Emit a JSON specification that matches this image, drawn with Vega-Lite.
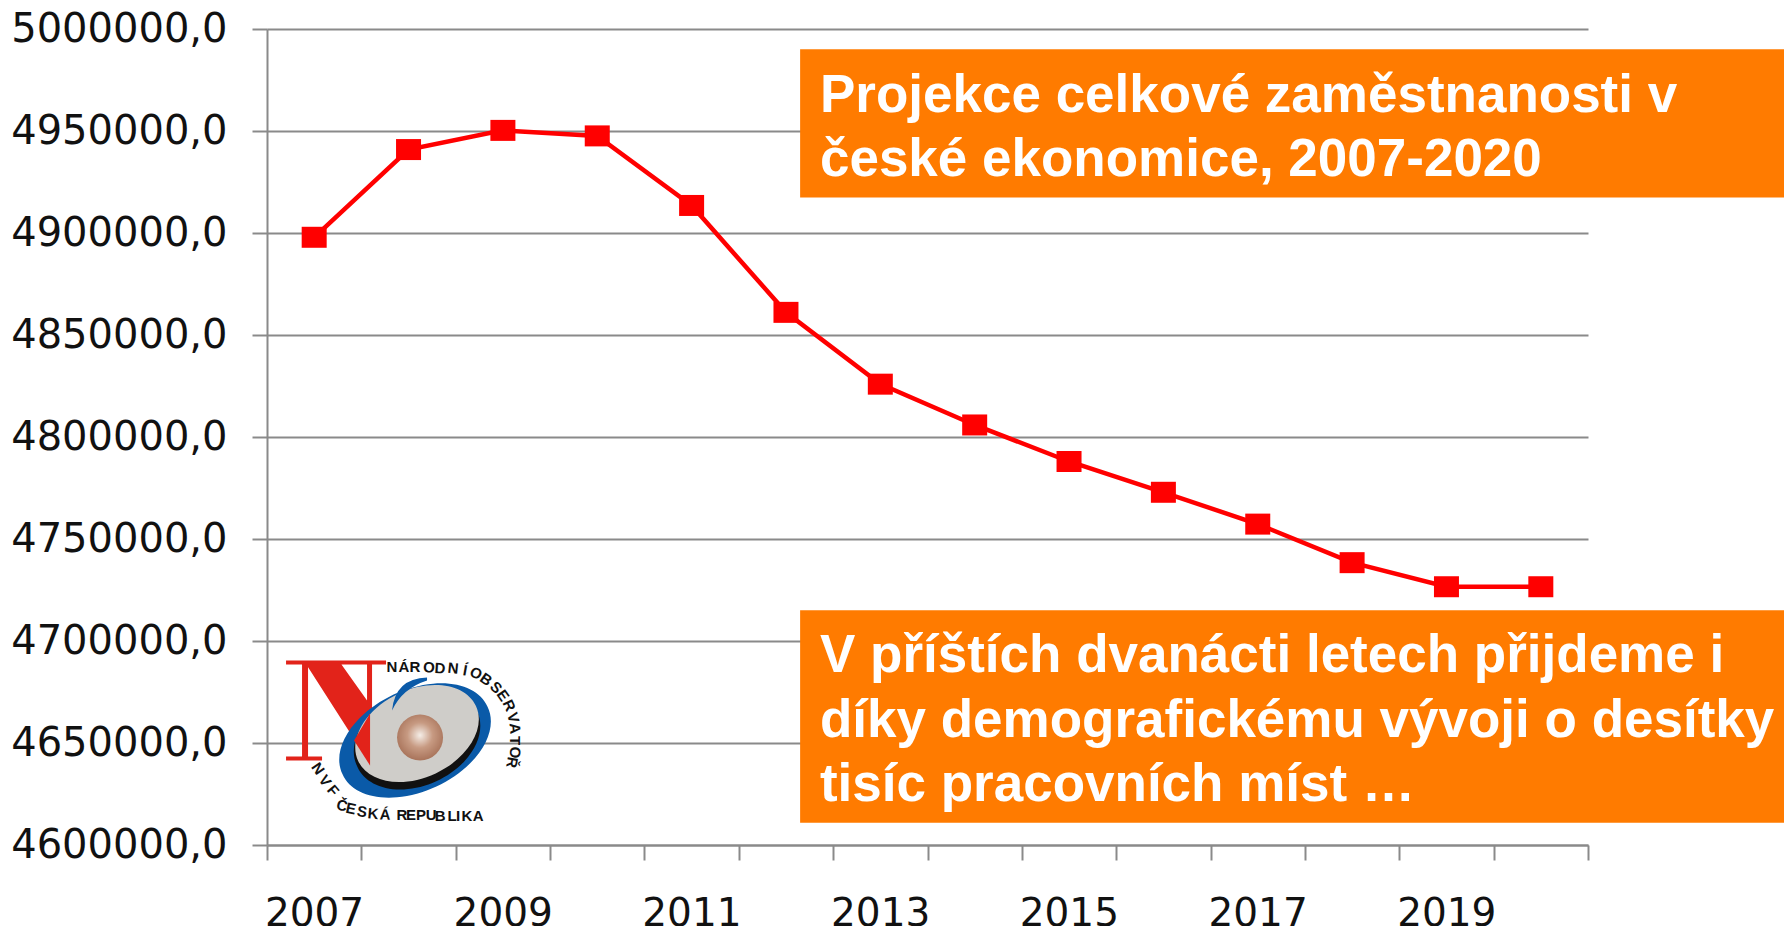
{"$schema":"https://vega.github.io/schema/vega-lite/v6.json","width":1321,"height":816,"autosize":{"type":"none"},"padding":{"left":267,"top":29,"right":196,"bottom":81},"background":"#ffffff","view":{"stroke":null},"config":{"axis":{"domainColor":"#8a8a8a","domainWidth":2,"tickColor":"#8a8a8a","tickWidth":2,"gridColor":"#8a8a8a","gridWidth":2,"labelColor":"#111111","labelFont":"DejaVu Sans","labelLimit":0,"title":null}},"datasets":{"series":[{"year":2007,"employment":4897900},{"year":2008,"employment":4940900},{"year":2009,"employment":4950300},{"year":2010,"employment":4947600},{"year":2011,"employment":4913500},{"year":2012,"employment":4861100},{"year":2013,"employment":4825900},{"year":2014,"employment":4805900},{"year":2015,"employment":4788000},{"year":2016,"employment":4772900},{"year":2017,"employment":4757300},{"year":2018,"employment":4738400},{"year":2019,"employment":4726600},{"year":2020,"employment":4726600}],"boxes":[{"a":2012.15,"b":2022.58,"lo":4917350,"hi":4990030},{"a":2012.15,"b":2022.58,"lo":4610950,"hi":4715040}],"notes":[{"x":2012.36,"y":4967000,"t":"Projekce celkové zaměstnanosti v"},{"x":2012.36,"y":4935600,"t":"české ekonomice, 2007-2020"},{"x":2012.36,"y":4692500,"t":"V příštích dvanácti letech přijdeme i"},{"x":2012.36,"y":4660600,"t":"díky demografickému vývoji o desítky"},{"x":2012.36,"y":4629200,"t":"tisíc pracovních míst …"}],"logo":[{"x":2008.069,"y":4651210}],"core":[{"x":2008.122,"y":4652680}],"letters":[{"x":2007.825,"y":4687053,"c":"N","r":0},{"x":2007.952,"y":4687053,"c":"Á","r":0},{"x":2008.069,"y":4687053,"c":"R","r":0},{"x":2008.217,"y":4687053,"c":"O","r":2},{"x":2008.334,"y":4686562,"c":"D","r":4},{"x":2008.472,"y":4686562,"c":"N","r":6},{"x":2008.599,"y":4685581,"c":"Í","r":10},{"x":2008.716,"y":4684107,"c":"O","r":28},{"x":2008.822,"y":4681161,"c":"B","r":35},{"x":2008.928,"y":4677229,"c":"S","r":45},{"x":2009.002,"y":4673301,"c":"E","r":55},{"x":2009.065,"y":4668392,"c":"R","r":65},{"x":2009.108,"y":4662500,"c":"V","r":75},{"x":2009.129,"y":4657098,"c":"A","r":85},{"x":2009.129,"y":4651206,"c":"T","r":90},{"x":2009.129,"y":4645314,"c":"O","r":95},{"x":2009.097,"y":4640403,"c":"Ř","r":100},{"x":2007.041,"y":4637458,"c":"N","r":55},{"x":2007.115,"y":4631565,"c":"V","r":55},{"x":2007.2,"y":4626654,"c":"F","r":50},{"x":2007.295,"y":4619289,"c":"Č","r":15},{"x":2007.39,"y":4617816,"c":"E","r":12},{"x":2007.507,"y":4616343,"c":"S","r":10},{"x":2007.624,"y":4615361,"c":"K","r":5},{"x":2007.751,"y":4614870,"c":"Á","r":2},{"x":2007.931,"y":4614870,"c":"R","r":0},{"x":2008.027,"y":4614870,"c":"E","r":0},{"x":2008.133,"y":4614870,"c":"P","r":0},{"x":2008.239,"y":4614870,"c":"U","r":0},{"x":2008.334,"y":4614378,"c":"B","r":0},{"x":2008.461,"y":4614378,"c":"L","r":0},{"x":2008.525,"y":4614378,"c":"I","r":0},{"x":2008.62,"y":4614378,"c":"K","r":0},{"x":2008.737,"y":4614378,"c":"A","r":0}]},"layer":[{"data":{"name":"series"},"mark":{"type":"line","color":"#ff0000","strokeWidth":4.5},"encoding":{"x":{"field":"year","type":"quantitative","scale":{"domain":[2006.5,2020.5],"nice":false,"zero":false},"axis":{"values":[2006.5,2007.5,2008.5,2009.5,2010.5,2011.5,2012.5,2013.5,2014.5,2015.5,2016.5,2017.5,2018.5,2019.5,2020.5],"grid":false,"tickSize":15,"labelFontSize":39,"labelPadding":34,"labelOffset":47,"labelOverlap":false,"labelFlush":false,"labelBound":false,"labelExpr":"datum.value % 2 == 0.5 && datum.value < 2020 ? format(datum.value + 0.5, 'd') : ''"}},"y":{"field":"employment","type":"quantitative","scale":{"domain":[4600000,5000000],"nice":false,"zero":false},"axis":{"values":[4600000,4650000,4700000,4750000,4800000,4850000,4900000,4950000,5000000],"grid":true,"tickSize":15,"labelFontSize":40,"labelPadding":25,"labelOverlap":false,"labelFlush":false,"labelBound":false,"labelExpr":"replace(format(datum.value, '.1f'), '.', ',')"}}}},{"data":{"name":"series"},"mark":{"type":"point","filled":true,"opacity":1,"color":"#ff0000","shape":"M-1 -0.84L1 -0.84L1 0.84L-1 0.84Z","size":625},"encoding":{"x":{"field":"year","type":"quantitative"},"y":{"field":"employment","type":"quantitative"}}},{"data":{"name":"boxes"},"mark":{"type":"rect","color":"#ff7b00"},"encoding":{"x":{"field":"a","type":"quantitative"},"x2":{"field":"b"},"y":{"field":"lo","type":"quantitative"},"y2":{"field":"hi"}}},{"data":{"name":"notes"},"mark":{"type":"text","align":"left","baseline":"middle","font":"Liberation Sans","fontWeight":"bold","fontSize":53,"color":"#ffffff"},"encoding":{"x":{"field":"x","type":"quantitative"},"y":{"field":"y","type":"quantitative"},"text":{"field":"t"}}},{"data":{"name":"logo"},"mark":{"type":"point","filled":true,"opacity":1,"color":"#e2231a","size":40000,"shape":"M-1.29 -0.8L-0.29 -0.8L-0.29 -0.76L-1.29 -0.76ZM-1.29 0.16L-0.93 0.16L-0.93 0.2L-1.29 0.2ZM-1.13 -0.78L-1.07 -0.78L-1.07 0.18L-1.13 0.18ZM-0.48 -0.78L-0.43 -0.78L-0.43 -0.2L-0.48 -0.2ZM-1.1 -0.78L-0.75 -0.78L-0.43 -0.33L-0.44 0.25Z"},"encoding":{"x":{"field":"x","type":"quantitative"},"y":{"field":"y","type":"quantitative"}}},{"data":{"name":"logo"},"mark":{"type":"point","filled":true,"opacity":1,"color":"#0a5aa8","size":40000,"shape":"M-0.725 0.338A0.8 0.5 -25 1 1 0.725 -0.338A0.8 0.5 -25 1 1 -0.725 0.338Z"},"encoding":{"x":{"field":"x","type":"quantitative"},"y":{"field":"y","type":"quantitative"}}},{"data":{"name":"logo"},"mark":{"type":"point","filled":true,"opacity":1,"color":"#111111","size":40000,"shape":"M-0.578 0.259A0.66 0.46 -25 1 1 0.618 -0.299A0.66 0.46 -25 1 1 -0.578 0.259Z"},"encoding":{"x":{"field":"x","type":"quantitative"},"y":{"field":"y","type":"quantitative"}}},{"data":{"name":"logo"},"mark":{"type":"point","filled":true,"opacity":1,"color":"#cfcdc9","size":40000,"shape":"M-0.569 0.205A0.65 0.44 -25 1 1 0.609 -0.345A0.65 0.44 -25 1 1 -0.569 0.205Z"},"encoding":{"x":{"field":"x","type":"quantitative"},"y":{"field":"y","type":"quantitative"}}},{"data":{"name":"logo"},"mark":{"type":"point","filled":true,"opacity":1,"color":"#0a5aa8","size":40000,"shape":"M0.12 -0.63Q-0.2 -0.62 -0.23 -0.3Q-0.13 -0.52 0.12 -0.6Z"},"encoding":{"x":{"field":"x","type":"quantitative"},"y":{"field":"y","type":"quantitative"}}},{"data":{"name":"logo"},"mark":{"type":"point","filled":true,"opacity":1,"color":"#e2231a","size":40000,"shape":"M-0.45 -0.27L-0.45 0.25L-0.61 0Z"},"encoding":{"x":{"field":"x","type":"quantitative"},"y":{"field":"y","type":"quantitative"}}},{"data":{"name":"core"},"mark":{"type":"point","filled":true,"opacity":1,"shape":"circle","size":2116,"color":{"gradient":"radial","x1":0.5,"y1":0.45,"r1":0,"x2":0.5,"y2":0.45,"r2":0.55,"stops":[{"offset":0,"color":"#f5eee8"},{"offset":0.5,"color":"#c79a82"},{"offset":1,"color":"#a8735a"}]}},"encoding":{"x":{"field":"x","type":"quantitative"},"y":{"field":"y","type":"quantitative"}}},{"data":{"name":"letters"},"mark":{"type":"text","font":"Liberation Sans","fontSize":15,"fontWeight":"bold","color":"#111111","align":"center","baseline":"middle"},"encoding":{"x":{"field":"x","type":"quantitative"},"y":{"field":"y","type":"quantitative"},"text":{"field":"c"},"angle":{"field":"r","type":"quantitative","scale":null}}}]}
